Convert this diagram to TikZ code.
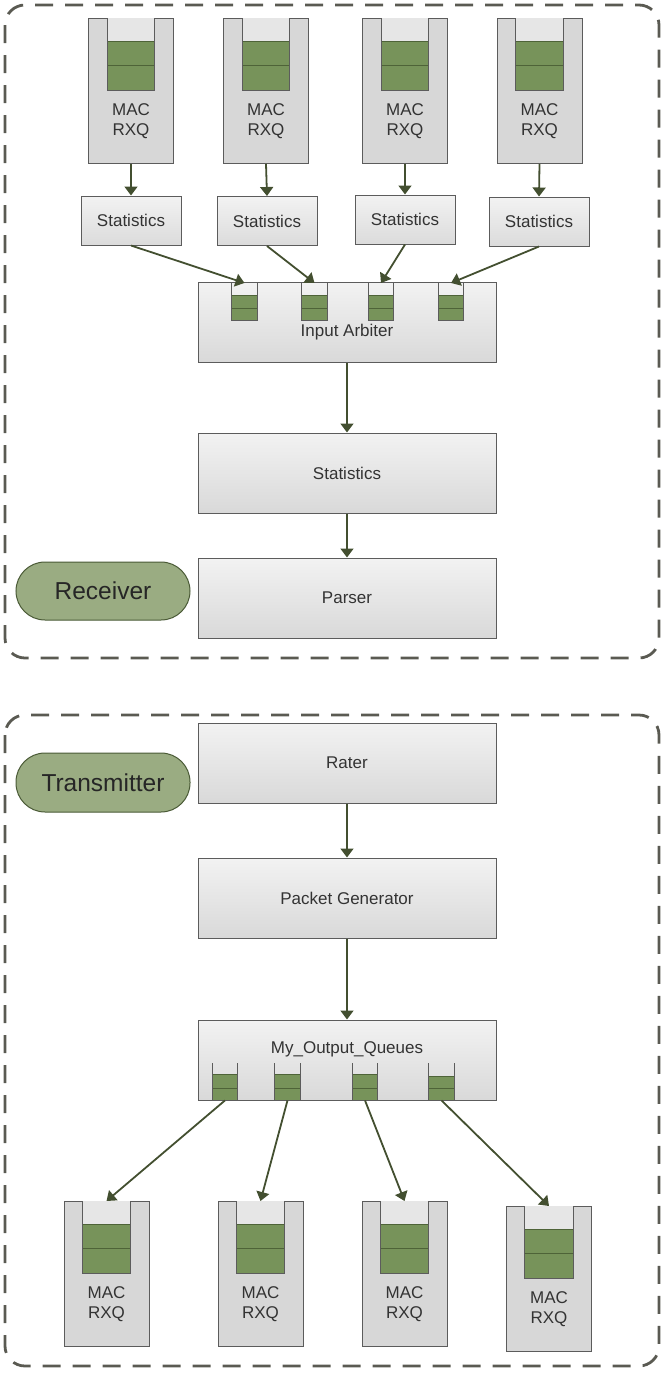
\documentclass[tikz,border=0pt]{standalone}
\usepackage{fontspec}
\setmainfont{Liberation Sans}
\usetikzlibrary{arrows.meta}

\definecolor{framegray}{HTML}{5A5A52}
\definecolor{edgegray}{HTML}{5C5C5C}
\definecolor{macfill}{HTML}{D7D7D7}
\definecolor{slotfill}{HTML}{E6E6E6}
\definecolor{cellgreen}{HTML}{77935A}
\definecolor{celledge}{HTML}{4E6338}
\definecolor{pillfill}{HTML}{9AAC82}
\definecolor{pilledge}{HTML}{4A5A36}
\definecolor{linkcol}{HTML}{434F30}
\definecolor{txt}{HTML}{333333}

\tikzset{
  x=1pt, y=-1pt,
  every node/.style={font=\fontsize{17}{20}\selectfont, text=txt},
  frame/.style={draw=framegray, line width=2.8pt, dash pattern=on 18pt off 12pt, rounded corners=20pt},
  blockbox/.style={draw=edgegray, line width=1pt, top color=white!95!black, bottom color=white!85!black,
    minimum width=298pt, minimum height=80pt, inner sep=0pt},
  statbox/.style={draw=edgegray, line width=1pt, top color=white!95!black, bottom color=white!86!black,
    minimum width=100pt, minimum height=49pt, inner sep=0pt},
  macbox/.style={draw=edgegray, line width=1pt, fill=macfill, minimum width=85pt, minimum height=145pt, inner sep=0pt},
  slot/.style={fill=slotfill, minimum height=72pt, inner sep=0pt},
  minislot/.style={minimum width=25pt, minimum height=37pt, inner sep=0pt},
  cell/.style={draw=celledge, line width=0.8pt, fill=cellgreen},
  wall/.style={draw=edgegray, line width=1pt},
  pill/.style={draw=pilledge, line width=1pt, fill=pillfill, rounded corners=29pt,
    minimum width=174pt, minimum height=58pt, inner sep=0pt,
    font=\fontsize{24.5}{28}\selectfont, text=black!85},
  link/.style={draw=linkcol, line width=1.8pt, -{Triangle[length=9pt,width=13pt]}}
}

% MAC RX queue block: name, centre x, top y, slot width
\newcommand\macunit[4]{%
  \node[macbox, anchor=north] (#1) at ({#2},{#3}) {};
  \node[slot, minimum width=#4pt, anchor=north] (#1q) at ({#2},{#3}) {};
  \draw[cell] ([yshift=-23pt]#1q.north west) rectangle (#1q.south east);
  \draw[celledge, line width=0.8pt] ([yshift=-47.5pt]#1q.north west) -- ([yshift=-47.5pt]#1q.north east);
  \draw[wall] (#1q.north west) -- (#1q.south west) -- (#1q.south east) -- (#1q.north east);
  \node[align=center] (#1t) at ({#2},{#3+103}) {MAC\\RXQ};
}

% small FIFO drawn inside a block: name, centre x, top y, height of empty part
\newcommand\miniqueue[4]{%
  \node[minislot, anchor=north] (#1) at ({#2},{#3}) {};
  \draw[cell] ([yshift=-#4pt]#1.north west) rectangle (#1.south east);
  \draw[celledge, line width=0.8pt] ([yshift=-25pt]#1.north west) -- ([yshift=-25pt]#1.north east);
  \draw[wall] (#1.north west) -- (#1.south west) -- (#1.south east) -- (#1.north east);
}

\begin{document}
\begin{tikzpicture}
\useasboundingbox (0,0) rectangle (662,1373);

% ---------------- receive path ----------------
\draw[frame] (5,5) rectangle (659,658);

\macunit{rx1}{131}{18}{47}
\macunit{rx2}{266}{18}{47}
\macunit{rx3}{405}{18}{47}
\macunit{rx4}{539.5}{18}{48}

\node[statbox] (st1) at (131,220.5) {Statistics};
\node[statbox] (st2) at (267,221) {Statistics};
\node[statbox] (st3) at (405,219.5) {Statistics};
\node[statbox] (st4) at (539,221.5) {Statistics};

\foreach \i in {1,...,4} { \draw[link] (rx\i.south) -- (st\i.north); }

\node[blockbox] (arb) at (347,322.5) {};
\node (arbt) at (347,332) {Input Arbiter};
\miniqueue{ia1}{244.5}{283}{12}
\miniqueue{ia2}{314.5}{283}{12}
\miniqueue{ia3}{381}{283}{12}
\miniqueue{ia4}{451}{283}{12}

\foreach \i in {1,...,4} { \draw[link] (st\i.south) -- (ia\i.north); }

\node[blockbox] (stat) at (347,473) {Statistics};
\node[blockbox] (parse) at (347,598) {Parser};
\draw[link] (arb.south) -- (stat.north);
\draw[link] (stat.south) -- (parse.north);

\node[pill] (recv) at (103,591) {Receiver};

% ---------------- transmit path ----------------
\draw[frame] (5,715) rectangle (659,1366);

\node[pill, minimum height=59pt] (xmit) at (103,782.5) {Transmitter};

\node[blockbox] (rate) at (347,763) {Rater};
\node[blockbox] (pgen) at (347,898) {Packet Generator};
\node[blockbox] (oq) at (347,1060) {};
\node (oqt) at (347,1049) {My\_Output\_Queues};
\miniqueue{oq1}{225}{1063}{11}
\miniqueue{oq2}{287.5}{1063}{11}
\miniqueue{oq3}{365}{1063}{11}
\miniqueue{oq4}{441.5}{1063}{13}

\draw[link] (rate.south) -- (pgen.north);
\draw[link] (pgen.south) -- (oq.north);

\macunit{tx1}{106.5}{1201}{48}
\macunit{tx2}{260.5}{1201}{48}
\macunit{tx3}{404.5}{1201}{48}
\macunit{tx4}{549}{1206}{48}

\foreach \i in {1,...,4} { \draw[link] (oq\i.south) -- (tx\i.north); }
\end{tikzpicture}
\end{document}
